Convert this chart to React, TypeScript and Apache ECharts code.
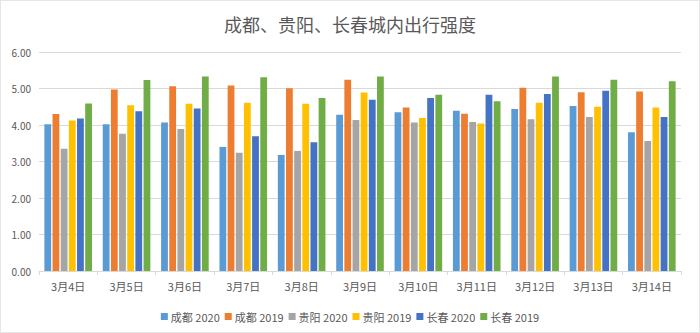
import React, { useEffect, useRef } from "react";
import * as echarts from "echarts";

const categories = ["3月4日", "3月5日", "3月6日", "3月7日", "3月8日", "3月9日", "3月10日", "3月11日", "3月12日", "3月13日", "3月14日"];
const seriesNames = ["成都 2020", "成都 2019", "贵阳 2020", "贵阳 2019", "长春 2020", "长春 2019"];
const chengdu2020 = [4.02, 4.02, 4.07, 3.40, 3.18, 4.28, 4.35, 4.39, 4.44, 4.52, 3.80];
const chengdu2019 = [4.30, 4.97, 5.06, 5.08, 5.01, 5.24, 4.48, 4.31, 5.02, 4.90, 4.92];
const guiyang2020 = [3.35, 3.76, 3.89, 3.24, 3.29, 4.14, 4.07, 4.08, 4.16, 4.22, 3.56];
const guiyang2019 = [4.12, 4.54, 4.58, 4.61, 4.58, 4.89, 4.19, 4.04, 4.61, 4.50, 4.48];
const changchun2020 = [4.18, 4.38, 4.45, 3.69, 3.53, 4.69, 4.74, 4.83, 4.85, 4.94, 4.22];
const changchun2019 = [4.59, 5.23, 5.33, 5.31, 4.74, 5.33, 4.83, 4.65, 5.33, 5.24, 5.20];
const colors = ["#5B9BD5", "#ED7D31", "#A5A5A5", "#FFC000", "#4472C4", "#70AD47"];

export default function App() {
  const ref = useRef<HTMLDivElement>(null);
  useEffect(() => {
    if (!ref.current) return;
    const chart = echarts.init(ref.current, undefined, { renderer: "svg" });
    const data = [chengdu2020, chengdu2019, guiyang2020, guiyang2019, changchun2020, changchun2019];
    const font = "'Noto Sans CJK SC', 'Liberation Sans', sans-serif";
    chart.setOption({
      animation: false,
      backgroundColor: "#ffffff",
      color: colors,
      textStyle: { fontFamily: font },
      title: {
        text: "成都、贵阳、长春城内出行强度",
        left: "center",
        top: 9,
        textStyle: { fontSize: 18, fontWeight: "normal", color: "#595959", fontFamily: font },
      },
      grid: { left: 38, right: 18, top: 51, bottom: 61 },
      legend: {
        bottom: 5,
        left: "center",
        itemWidth: 7,
        itemHeight: 7,
        itemGap: 5,
        icon: "rect",
        textStyle: { fontSize: 11, color: "#595959", padding: [0, 0, 0, -2] },
        data: seriesNames,
      },
      xAxis: {
        type: "category",
        data: categories,
        axisLine: { lineStyle: { color: "#d9d9d9" } },
        axisTick: { show: true, length: 4, lineStyle: { color: "#d9d9d9" } },
        axisLabel: { fontSize: 11, color: "#595959", margin: 9 },
      },
      yAxis: {
        type: "value",
        min: 0,
        max: 6,
        interval: 1,
        axisLine: { show: false },
        axisTick: { show: false },
        axisLabel: { fontSize: 10, color: "#595959", margin: 8, formatter: (v: number) => v.toFixed(2) },
        splitLine: { lineStyle: { color: "#d9d9d9" } },
      },
      series: seriesNames.map((name, i) => ({
        name,
        type: "bar",
        data: data[i],
        barWidth: 6.8,
        barGap: "20%",
      })),
    });
    return () => chart.dispose();
  }, []);
  return (
    <div
      ref={ref}
      style={{ position: "fixed", left: 0, top: 0, width: 700, height: 333, boxSizing: "border-box", border: "1px solid #e6e6e6" }}
    />
  );
}
